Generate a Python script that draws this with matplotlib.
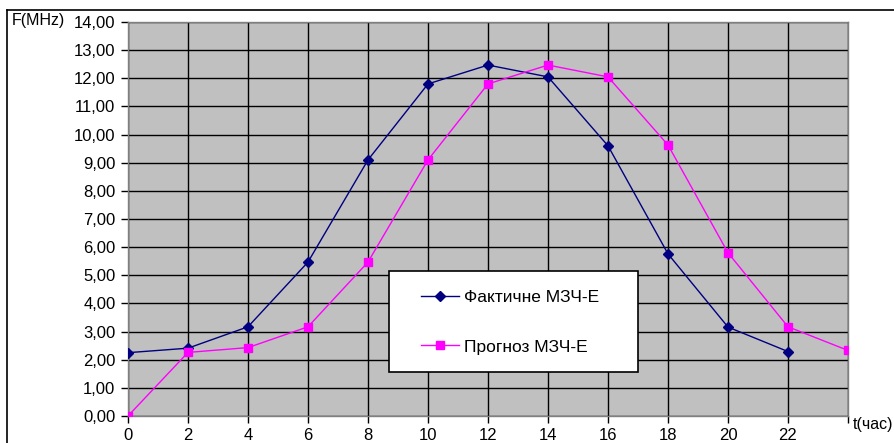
import matplotlib
matplotlib.use('Agg')
import matplotlib.pyplot as plt
from matplotlib.lines import Line2D
from matplotlib.patches import Rectangle
import numpy as np

plt.rcParams['font.family'] = ['Liberation Sans', 'DejaVu Sans']

# hours of the day
hours_fact = [0, 2, 4, 6, 8, 10, 12, 14, 16, 18, 20, 22]
fact = [2.25, 2.41, 3.17, 5.47, 9.10, 11.80, 12.47, 12.05, 9.60, 5.76, 3.16, 2.29]

hours_prog = [0, 2, 4, 6, 8, 10, 12, 14, 16, 18, 20, 22, 24]
prog = [0.00, 2.26, 2.43, 3.17, 5.47, 9.10, 11.80, 12.47, 12.05, 9.63, 5.80, 3.17, 2.33]

xticks = [0, 2, 4, 6, 8, 10, 12, 14, 16, 18, 20, 22, 24]
xticklabels = ['0', '2', '4', '6', '8', '10', '12', '14', '16', '18', '20', '22', '']
yticks = np.arange(0, 15, 1)

W, H = 894, 443
fig = plt.figure(figsize=(W / 100, H / 100), dpi=100)
ax = fig.add_axes([128 / W, 1 - 416 / H, 720 / W, 394 / H])
ax.set_facecolor('#c0c0c0')

ax.plot(hours_fact, fact, color='#000080', lw=1, marker='D', ms=5,
        label='Фактичне МЗЧ-Е', zorder=3)
ax.plot(hours_prog, prog, color='#ff00ff', lw=1, marker='s', ms=6,
        label='Прогноз МЗЧ-Е', zorder=3)

ax.set_xlim(0, 24)
ax.set_ylim(0, 14)
ax.set_xticks(xticks)
ax.set_xticklabels(xticklabels)
ax.set_yticks(yticks)
ax.set_yticklabels(['%d,00' % v for v in yticks])
ax.tick_params(direction='out', length=5, width=1, color='black',
               labelsize=12, pad=4)
ax.grid(True, color='black', lw=1)
ax.set_axisbelow(True)
for s in ax.spines.values():
    s.set_color('#808080')
    s.set_linewidth(1)
    s.set_zorder(2.5)

fig.text(12 / W, 1 - 20 / H, 'F(MHz)', fontsize=11.5, va='center', ha='left')
fig.text(853 / W, 1 - 424 / H, 't(час)', fontsize=11.5, va='center', ha='left')

# outer chart frame (cut at the right and bottom edges)
fig.add_artist(Line2D([7 / W, 1.0], [1 - 9.5 / H, 1 - 9.5 / H], color='black', lw=1.2))
fig.add_artist(Line2D([7 / W, 7 / W], [0.0, 1 - 9.5 / H], color='black', lw=1.2))

# legend box
ax.add_patch(Rectangle((389 / W, 1 - 372 / H), 249 / W, 101 / H,
                       transform=fig.transFigure, facecolor='white',
                       edgecolor='black', lw=1.2, zorder=4, clip_on=False))
leg = ax.legend(loc='center left', bbox_to_anchor=(421 / W, 1 - 322 / H),
                bbox_transform=fig.transFigure, frameon=False, fontsize=12.5,
                handlelength=2.2, handletextpad=0.3, labelspacing=2.0,
                borderpad=0, borderaxespad=0)
leg.set_zorder(5)

fig.savefig('out.png', dpi=100)
